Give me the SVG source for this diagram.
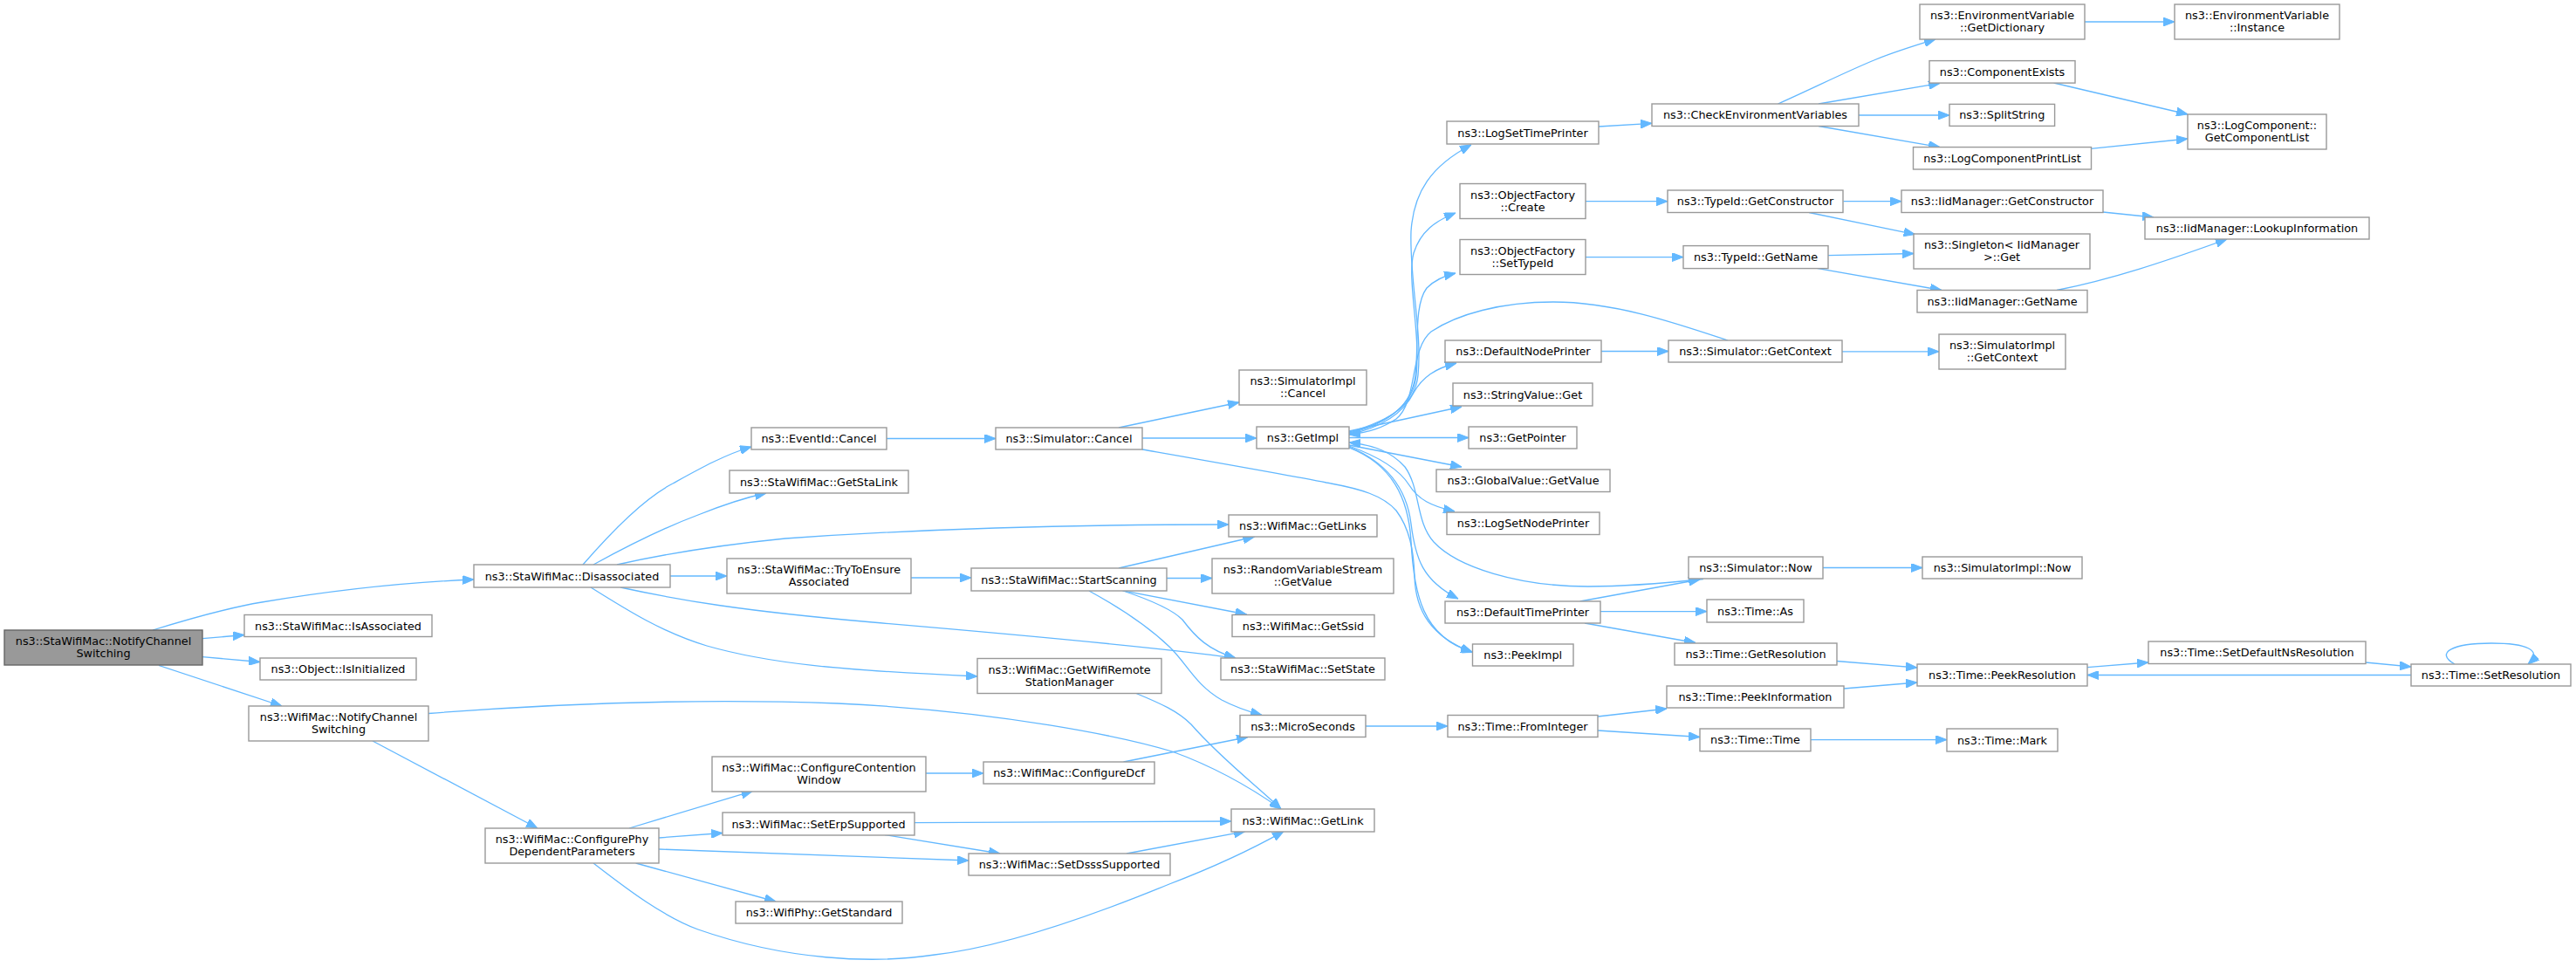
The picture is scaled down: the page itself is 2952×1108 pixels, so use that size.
<svg xmlns="http://www.w3.org/2000/svg" width="2952" height="1108" viewBox="0 0 2952 1108">
<defs>
<marker id="ah" markerUnits="userSpaceOnUse" markerWidth="13" markerHeight="10" refX="13" refY="5" viewBox="0 0 13 10" orient="auto">
<path d="M0,0 L13,5 L0,10 z" fill="#63b8ff" stroke="#63b8ff" stroke-width="1"/>
</marker>
<style>
.n rect{fill:#ffffff;stroke:#999999;stroke-width:1.4}
.root rect{fill:#999999;stroke:#666666;stroke-width:1.4}
text{font-family:"DejaVu Sans","Liberation Sans",sans-serif;font-size:12.8px;text-anchor:middle;fill:#000000}
#edges path{fill:none;stroke:#63b8ff;stroke-width:1.3;marker-end:url(#ah)}
</style>
</defs>
<rect width="2952" height="1108" fill="#ffffff"/>
<g id="edges">
<path d="M175,722 C230,705 270,695 300,690 C390,675 470,667 543,664"/>
<path d="M232,731.7 L280,727.5"/>
<path d="M232,752.6 L298,758.5"/>
<path d="M182,762.5 L323,809"/>
<path d="M491,817.5 C640,806 800,800 960,806 C1150,815 1290,845 1343,861 C1390,878 1430,900 1468,927"/>
<path d="M427,849 L616,949"/>
<path d="M668,647 C700,610 740,570 771,554 C800,538 830,521 861,512"/>
<path d="M680,647 C720,625 760,605 800,590 C830,578 855,570 878,565"/>
<path d="M707,647 C760,635 820,625 900,617 C1100,603 1300,601 1408,601"/>
<path d="M768,660 L833,660"/>
<path d="M711,673 C780,688 850,700 1000,713 C1200,730 1350,745 1416,754"/>
<path d="M677,673 C720,700 760,725 810,740 C880,760 960,768 1120,775"/>
<path d="M1044,662 L1113,662"/>
<path d="M1282,651 L1437.5,615"/>
<path d="M1337,662.5 L1389,662.5"/>
<path d="M1286,676.6 L1428.6,704"/>
<path d="M1287,677 C1320,688 1345,700 1355,710 C1370,730 1385,745 1416,754"/>
<path d="M1248,677 C1290,700 1320,722 1340,741 C1360,760 1370,785 1400,802 C1415,810 1430,815 1446,819.5"/>
<path d="M1061,886 L1127,886"/>
<path d="M1287.5,873 L1430,844.5"/>
<path d="M1302,794.5 C1330,806 1350,815 1365,830 C1400,870 1440,900 1468,927"/>
<path d="M1048,942.7 L1411,941"/>
<path d="M1014,956.5 L1146,978"/>
<path d="M721,949 L862.5,906.3"/>
<path d="M755,960 L828,954.5"/>
<path d="M755,973 L1110,986"/>
<path d="M728.6,989 L889,1033"/>
<path d="M680,989 C720,1020 760,1050 800,1065 C900,1100 1000,1105 1071,1094 C1150,1085 1250,1050 1340,1013 C1400,990 1440,970 1471,952.6"/>
<path d="M1291,978 L1427,952.6"/>
<path d="M1016,502.5 L1141,502.5"/>
<path d="M1282,490 L1420,461"/>
<path d="M1309,502 L1440,502"/>
<path d="M1309,515 C1400,531 1480,545 1520,553 C1560,560 1585,568 1600,585 C1615,605 1620,630 1621,660 C1622,700 1640,730 1687.5,747.5"/>
<path d="M1546,495 C1600,480 1622,460 1625,430 C1630,380 1615,320 1617,265 C1620,220 1640,190 1686,166"/>
<path d="M1546,496 C1598,482 1620,460 1623,430 C1628,380 1612,320 1620,290 C1628,265 1645,253 1668,244"/>
<path d="M1546,497 C1596,484 1618,462 1622,430 C1626,395 1620,350 1635,330 C1645,320 1655,316 1668,313"/>
<path d="M1546,498 C1590,488 1610,470 1620,450 C1630,432 1645,422 1669,416"/>
<path d="M1546,494 L1675,466"/>
<path d="M1546,501.5 L1683,501.5"/>
<path d="M1546,510 L1675,535"/>
<path d="M1546,511 C1585,525 1605,540 1615,556 C1625,572 1640,580 1667,586"/>
<path d="M1546,512 C1590,530 1612,560 1617,600 C1622,640 1630,665 1671,686"/>
<path d="M1546,513 C1595,532 1614,570 1617,620 C1620,680 1630,730 1687,747"/>
<path d="M1980,390 C1920,370 1850,346 1780,346 C1720,346 1670,360 1640,380 C1615,400 1625,460 1600,480 C1585,490 1570,495 1546,498"/>
<path d="M1952,663.5 C1900,669 1860,672 1820,672 C1740,672 1670,650 1643,621 C1622,598 1628,560 1610,535 C1595,518 1575,510 1546,507"/>
<path d="M1832,145 L1893,141.3"/>
<path d="M2037.5,119 C2080,100 2120,80 2150,68 C2175,58 2195,52 2218,45"/>
<path d="M2084,119 L2223,95.4"/>
<path d="M2130,132 L2234,132"/>
<path d="M2084,144.5 L2223,168.6"/>
<path d="M2389,25 L2492,25"/>
<path d="M2353.6,95 L2507,131"/>
<path d="M2396,170.3 L2507,159"/>
<path d="M1817,230.7 L1911,230.7"/>
<path d="M1817,294.6 L1929,294.6"/>
<path d="M2112.5,230.7 L2179,230.7"/>
<path d="M2073,243.5 L2194.6,268.6"/>
<path d="M2095,292.6 L2193,290.5"/>
<path d="M2082,307.4 L2225,332.5"/>
<path d="M2410,243 L2468,249"/>
<path d="M2357,332.5 C2420,320 2480,300 2552,274"/>
<path d="M1835,402.5 L1912,402.5"/>
<path d="M2111,402.8 L2222,402.8"/>
<path d="M1810.7,689 L1948,664"/>
<path d="M1834,700.6 L1956,700.6"/>
<path d="M1816,714 L1943,736.5"/>
<path d="M2088.6,650.5 L2203,650.5"/>
<path d="M2104.6,757.5 L2197,765"/>
<path d="M2113,789 L2197,782"/>
<path d="M1831,821 L1910,812"/>
<path d="M1831,837 L1948,844.5"/>
<path d="M1565,832 L1659,832"/>
<path d="M2075,847.6 L2231,847.6"/>
<path d="M2392,764.6 L2462,759"/>
<path d="M2710.7,759 L2763,764"/>
<path d="M2763,773.5 L2392,773.5"/>
<path d="M2813,761 C2790,748 2810,737 2855,737 C2895,737 2915,745 2897,761"/>
</g>
<g id="n0" class="root"><rect x="5" y="722" width="227" height="40"/><text x="118.5" y="739">ns3::StaWifiMac::NotifyChannel</text><text x="118.5" y="753">Switching</text></g>
<g id="dis" class="n"><rect x="543" y="647" width="225" height="26"/><text x="655.5" y="664.5">ns3::StaWifiMac::Disassociated</text></g>
<g id="isa" class="n"><rect x="280" y="704.5" width="215" height="25"/><text x="387.5" y="721.5">ns3::StaWifiMac::IsAssociated</text></g>
<g id="isi" class="n"><rect x="298" y="754" width="179" height="25"/><text x="387.5" y="771">ns3::Object::IsInitialized</text></g>
<g id="wnc" class="n"><rect x="285" y="809" width="206" height="40"/><text x="388" y="826">ns3::WifiMac::NotifyChannel</text><text x="388" y="840">Switching</text></g>
<g id="evc" class="n"><rect x="861" y="490" width="155" height="25"/><text x="938.5" y="507">ns3::EventId::Cancel</text></g>
<g id="gsl" class="n"><rect x="836" y="539" width="205" height="26"/><text x="938.5" y="556.5">ns3::StaWifiMac::GetStaLink</text></g>
<g id="tte" class="n"><rect x="833" y="640" width="211" height="40"/><text x="938.5" y="657">ns3::StaWifiMac::TryToEnsure</text><text x="938.5" y="671">Associated</text></g>
<g id="gwr" class="n"><rect x="1120" y="754.5" width="211" height="40"/><text x="1225.5" y="771.5">ns3::WifiMac::GetWifiRemote</text><text x="1225.5" y="785.5">StationManager</text></g>
<g id="cpd" class="n"><rect x="556" y="949" width="199" height="40"/><text x="655.5" y="966">ns3::WifiMac::ConfigurePhy</text><text x="655.5" y="980">DependentParameters</text></g>
<g id="ccw" class="n"><rect x="816" y="867" width="245" height="40"/><text x="938.5" y="884">ns3::WifiMac::ConfigureContention</text><text x="938.5" y="898">Window</text></g>
<g id="ser" class="n"><rect x="828" y="931" width="220" height="26"/><text x="938" y="948.5">ns3::WifiMac::SetErpSupported</text></g>
<g id="gst" class="n"><rect x="843" y="1033" width="191" height="25"/><text x="938.5" y="1050">ns3::WifiPhy::GetStandard</text></g>
<g id="sca" class="n"><rect x="1141" y="490" width="168" height="25"/><text x="1225" y="507">ns3::Simulator::Cancel</text></g>
<g id="ssc" class="n"><rect x="1113" y="651" width="224" height="26"/><text x="1225" y="668.5">ns3::StaWifiMac::StartScanning</text></g>
<g id="cdcf" class="n"><rect x="1127" y="873" width="196" height="25"/><text x="1225" y="890">ns3::WifiMac::ConfigureDcf</text></g>
<g id="sds" class="n"><rect x="1110" y="978" width="231" height="25"/><text x="1225.5" y="995">ns3::WifiMac::SetDsssSupported</text></g>
<g id="sic" class="n"><rect x="1420" y="424" width="146" height="40"/><text x="1493" y="441">ns3::SimulatorImpl</text><text x="1493" y="455">::Cancel</text></g>
<g id="gim" class="n"><rect x="1440" y="489" width="106" height="25"/><text x="1493" y="506">ns3::GetImpl</text></g>
<g id="gls" class="n"><rect x="1408" y="590" width="170" height="25"/><text x="1493" y="607">ns3::WifiMac::GetLinks</text></g>
<g id="rvs" class="n"><rect x="1389" y="640" width="208" height="40"/><text x="1493" y="657">ns3::RandomVariableStream</text><text x="1493" y="671">::GetValue</text></g>
<g id="gss" class="n"><rect x="1412" y="704.5" width="163" height="25"/><text x="1493.5" y="721.5">ns3::WifiMac::GetSsid</text></g>
<g id="sst" class="n"><rect x="1399" y="754" width="188" height="25"/><text x="1493" y="771">ns3::StaWifiMac::SetState</text></g>
<g id="ms" class="n"><rect x="1421" y="819.5" width="144" height="25"/><text x="1493" y="836.5">ns3::MicroSeconds</text></g>
<g id="glk" class="n"><rect x="1411" y="927" width="164" height="26"/><text x="1493" y="944.5">ns3::WifiMac::GetLink</text></g>
<g id="lstp" class="n"><rect x="1658" y="139" width="174" height="26"/><text x="1745" y="156.5">ns3::LogSetTimePrinter</text></g>
<g id="ofc" class="n"><rect x="1673" y="210.5" width="144" height="40"/><text x="1745" y="227.5">ns3::ObjectFactory</text><text x="1745" y="241.5">::Create</text></g>
<g id="ofs" class="n"><rect x="1673" y="274.5" width="144" height="40"/><text x="1745" y="291.5">ns3::ObjectFactory</text><text x="1745" y="305.5">::SetTypeId</text></g>
<g id="dnp" class="n"><rect x="1656" y="390" width="179" height="25"/><text x="1745.5" y="407">ns3::DefaultNodePrinter</text></g>
<g id="svg" class="n"><rect x="1665" y="439" width="160" height="26"/><text x="1745" y="456.5">ns3::StringValue::Get</text></g>
<g id="gp" class="n"><rect x="1683" y="489" width="124" height="25"/><text x="1745" y="506">ns3::GetPointer</text></g>
<g id="gvg" class="n"><rect x="1646" y="538" width="199" height="25.5"/><text x="1745.5" y="555.2">ns3::GlobalValue::GetValue</text></g>
<g id="lsnp" class="n"><rect x="1658" y="587" width="175" height="25.5"/><text x="1745.5" y="604.2">ns3::LogSetNodePrinter</text></g>
<g id="dtp" class="n"><rect x="1656" y="689" width="178" height="25"/><text x="1745" y="706">ns3::DefaultTimePrinter</text></g>
<g id="pi" class="n"><rect x="1687.5" y="738" width="115.5" height="25"/><text x="1745.25" y="755">ns3::PeekImpl</text></g>
<g id="fi" class="n"><rect x="1659" y="819.5" width="172" height="25"/><text x="1745" y="836.5">ns3::Time::FromInteger</text></g>
<g id="cev" class="n"><rect x="1893" y="119" width="237" height="25.5"/><text x="2011.5" y="136.2">ns3::CheckEnvironmentVariables</text></g>
<g id="tgc" class="n"><rect x="1911" y="218" width="201" height="25.5"/><text x="2011.5" y="235.2">ns3::TypeId::GetConstructor</text></g>
<g id="tgn" class="n"><rect x="1929" y="281.6" width="166" height="26"/><text x="2012" y="299.1">ns3::TypeId::GetName</text></g>
<g id="sgc" class="n"><rect x="1912" y="390" width="199" height="25"/><text x="2011.5" y="407">ns3::Simulator::GetContext</text></g>
<g id="sn" class="n"><rect x="1935" y="638" width="154" height="25"/><text x="2012" y="655">ns3::Simulator::Now</text></g>
<g id="ta" class="n"><rect x="1956" y="687" width="111" height="26"/><text x="2011.5" y="704.5">ns3::Time::As</text></g>
<g id="tgr" class="n"><rect x="1919" y="737" width="186" height="25"/><text x="2012" y="754">ns3::Time::GetResolution</text></g>
<g id="tpi" class="n"><rect x="1910" y="786" width="203" height="25"/><text x="2011.5" y="803">ns3::Time::PeekInformation</text></g>
<g id="tt" class="n"><rect x="1948" y="835" width="127" height="25.7"/><text x="2011.5" y="852.3">ns3::Time::Time</text></g>
<g id="egd" class="n"><rect x="2200" y="5" width="189" height="40"/><text x="2294.5" y="22">ns3::EnvironmentVariable</text><text x="2294.5" y="36">::GetDictionary</text></g>
<g id="ce" class="n"><rect x="2211" y="69.6" width="167" height="25.5"/><text x="2294.5" y="86.8">ns3::ComponentExists</text></g>
<g id="ss" class="n"><rect x="2234" y="119.4" width="120.6" height="25"/><text x="2294.3" y="136.4">ns3::SplitString</text></g>
<g id="lcpl" class="n"><rect x="2192.5" y="168.6" width="204" height="25.4"/><text x="2294.5" y="185.8">ns3::LogComponentPrintList</text></g>
<g id="igc" class="n"><rect x="2179" y="218" width="231" height="25.5"/><text x="2294.5" y="235.2">ns3::IidManager::GetConstructor</text></g>
<g id="sg" class="n"><rect x="2193" y="268" width="202" height="40"/><text x="2294" y="285">ns3::Singleton&lt; IidManager</text><text x="2294" y="299">&gt;::Get</text></g>
<g id="ign" class="n"><rect x="2197" y="332.5" width="195" height="25.5"/><text x="2294.5" y="349.7">ns3::IidManager::GetName</text></g>
<g id="sigc" class="n"><rect x="2222" y="383" width="145" height="40"/><text x="2294.5" y="400">ns3::SimulatorImpl</text><text x="2294.5" y="414">::GetContext</text></g>
<g id="sin" class="n"><rect x="2203" y="638" width="183" height="25"/><text x="2294.5" y="655">ns3::SimulatorImpl::Now</text></g>
<g id="tpr" class="n"><rect x="2197" y="761" width="195" height="25"/><text x="2294.5" y="778">ns3::Time::PeekResolution</text></g>
<g id="tm" class="n"><rect x="2231" y="835" width="127" height="26"/><text x="2294.5" y="852.5">ns3::Time::Mark</text></g>
<g id="evi" class="n"><rect x="2492" y="5" width="189" height="40"/><text x="2586.5" y="22">ns3::EnvironmentVariable</text><text x="2586.5" y="36">::Instance</text></g>
<g id="lcg" class="n"><rect x="2507" y="131" width="159" height="40"/><text x="2586.5" y="148">ns3::LogComponent::</text><text x="2586.5" y="162">GetComponentList</text></g>
<g id="ili" class="n"><rect x="2458" y="249" width="257" height="25"/><text x="2586.5" y="266">ns3::IidManager::LookupInformation</text></g>
<g id="tsd" class="n"><rect x="2462" y="735" width="249" height="25.5"/><text x="2586.5" y="752.2">ns3::Time::SetDefaultNsResolution</text></g>
<g id="tsr" class="n"><rect x="2763" y="761" width="183" height="25"/><text x="2854.5" y="778">ns3::Time::SetResolution</text></g>
</svg>
